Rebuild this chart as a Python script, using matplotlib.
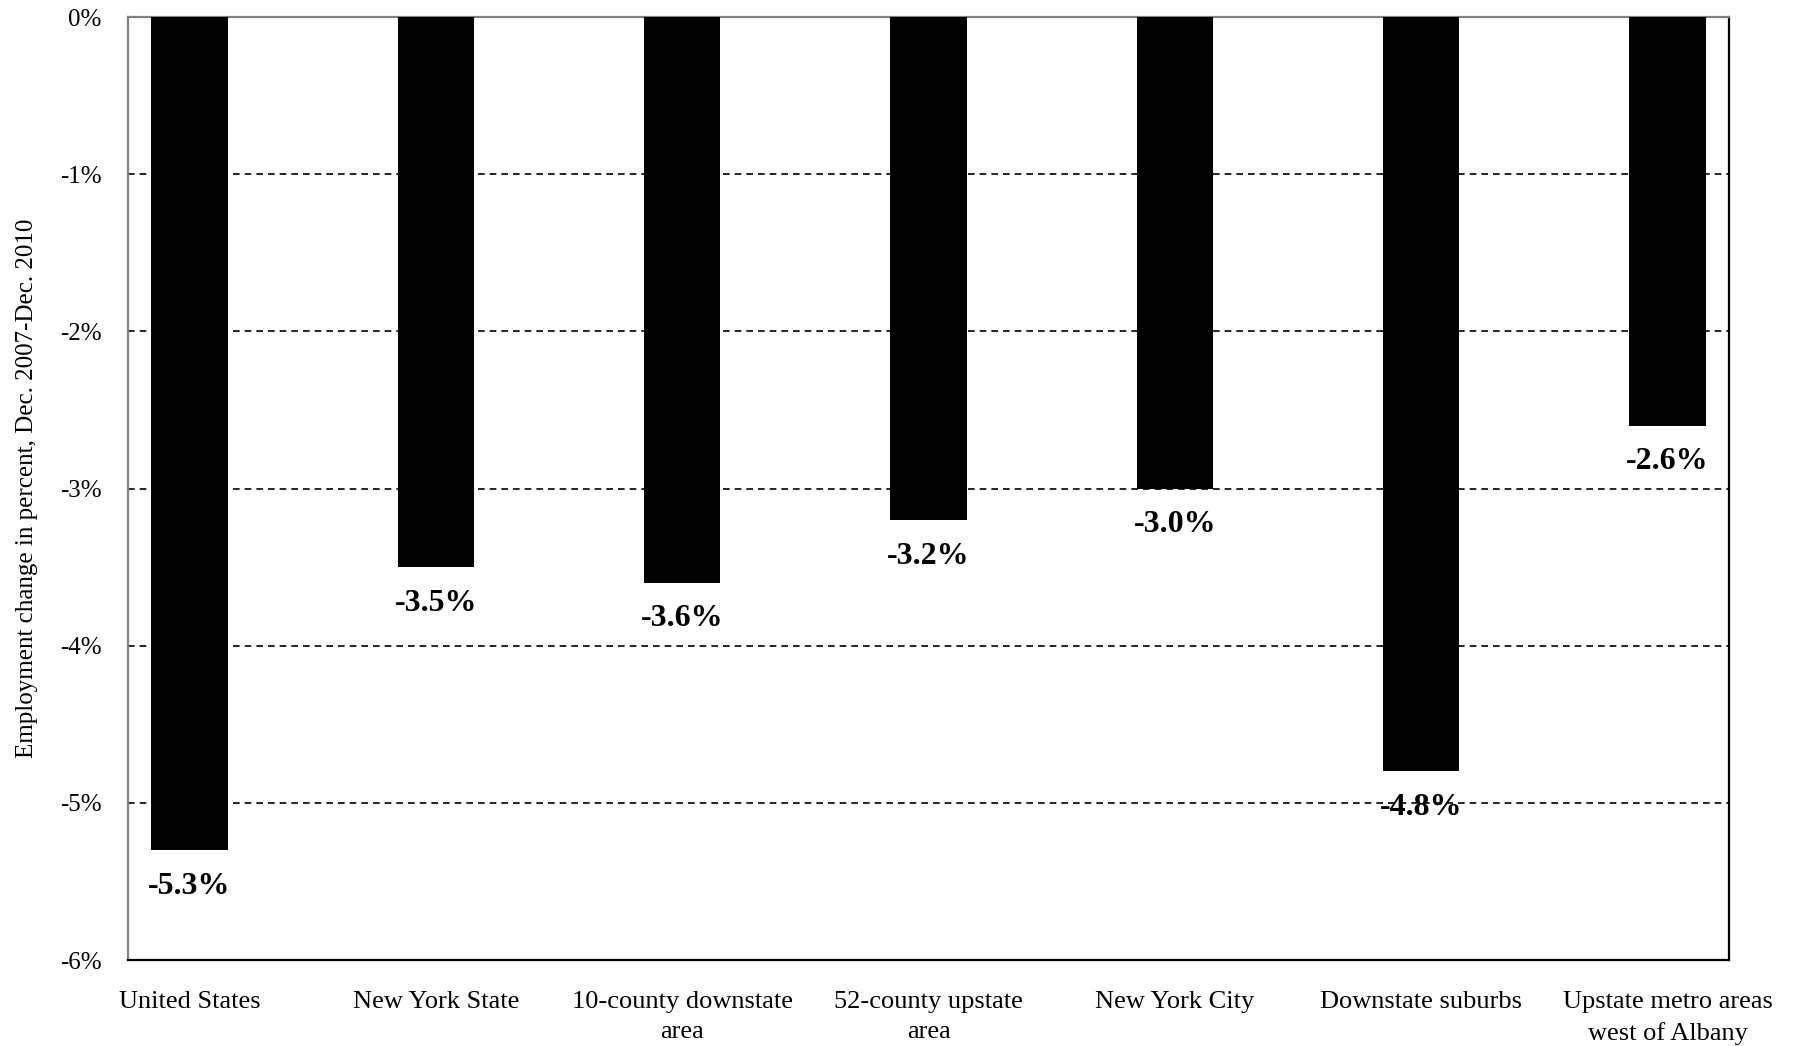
import matplotlib
matplotlib.use("Agg")
import matplotlib.pyplot as plt

categories = ["United States", "New York State", "10-county downstate\narea",
              "52-county upstate\narea", "New York City", "Downstate suburbs",
              "Upstate metro areas\nwest of Albany"]
values = [-5.3, -3.5, -3.6, -3.2, -3.0, -4.8, -2.6]
yticks = [0, -1, -2, -3, -4, -5, -6]

plt.rcParams['font.family'] = ['Liberation Serif', 'DejaVu Serif']


def graph():
    fig = plt.figure(figsize=(17.97, 10.46), dpi=100)
    ax = fig.add_axes([0.0712, 0.0822, 0.891, 0.9015])

    x = list(range(len(categories)))
    ax.bar(x, values, width=0.31, color='black', zorder=3)

    for xi, v in zip(x, values):
        ax.annotate(f"{v:.1f}%", (xi, v), xytext=(0, -26), textcoords='offset points',
                    ha='center', va='center', fontsize=23, fontweight='bold', zorder=4)

    ax.set_xlim(-0.25, len(categories) - 0.75)
    ax.set_ylim(-6, 0)
    ax.set_yticks(yticks)
    ax.set_yticklabels([f"{t}%" for t in yticks])
    ax.set_xticks(x)
    ax.set_xticklabels(categories, fontsize=19, linespacing=1.5)
    ax.tick_params(axis='both', length=0)
    ax.tick_params(axis='y', labelsize=18, pad=19)
    ax.tick_params(axis='x', pad=22)

    for t in yticks[1:-1]:
        ax.axhline(t, color='black', lw=1.2, ls=(0, (4, 3)), zorder=1)

    ax.spines['top'].set_color('#808080')
    ax.spines['left'].set_color('#808080')
    ax.spines['right'].set_color('black')
    ax.spines['bottom'].set_color('black')
    for s in ax.spines.values():
        s.set_linewidth(1.6)

    ax.set_ylabel('Employment change in percent, Dec. 2007-Dec. 2010', fontsize=18, labelpad=16)
    fig.savefig('out.png', dpi=100)


def main():
    graph()


if __name__ == "__main__":
    main()
